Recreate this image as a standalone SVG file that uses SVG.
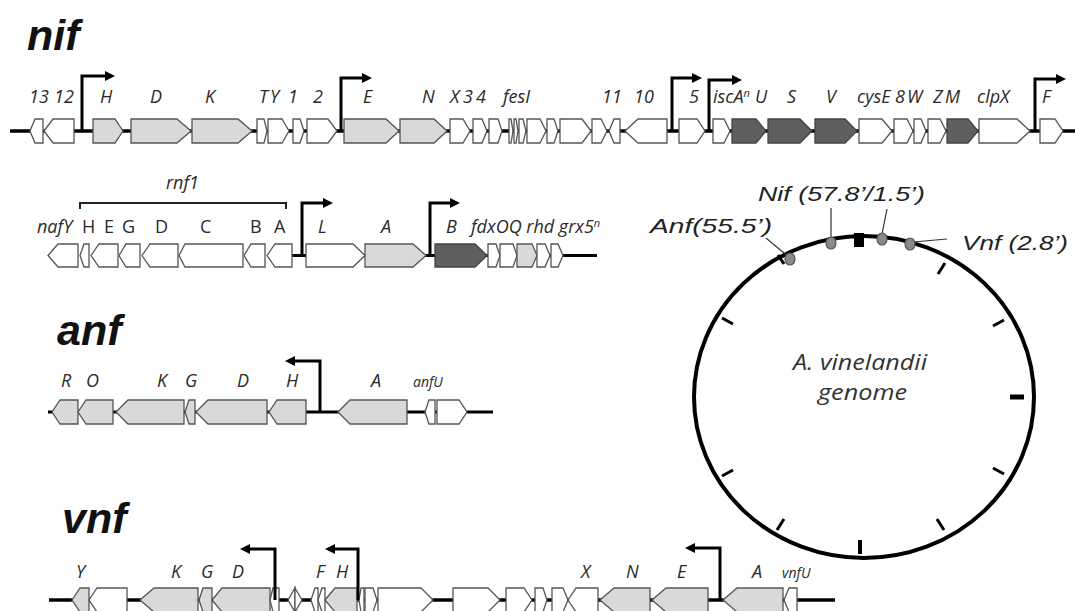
<svg xmlns="http://www.w3.org/2000/svg" width="1075" height="611" viewBox="0 0 1075 611">
<defs>
<marker id="pa" viewBox="0 0 10 10" markerWidth="11" markerHeight="10" refX="3" refY="5" markerUnits="userSpaceOnUse" orient="auto"><path d="M0,0 L10,5 L0,10 z" fill="#000"/></marker>
</defs>
<style>
.w{fill:#fff;stroke:#555;stroke-width:1.3}
.g{fill:#d9d9d9;stroke:#555;stroke-width:1.3}
.d{fill:#5f5f5f;stroke:#444;stroke-width:1.3}
.bb{stroke:#000;stroke-width:3.5;fill:none}
.pr{stroke:#000;stroke-width:3;fill:none;marker-end:url(#pa)}
.gl{font-family:"Open Sans",Lato,sans-serif;font-style:italic;font-size:18px;fill:#2a2a2a}
.gu{font-family:"Open Sans",Lato,sans-serif;font-size:18px;fill:#2a2a2a}
.gs{font-family:"Open Sans",Lato,sans-serif;font-style:italic;font-size:14px;fill:#2a2a2a}
.tt{font-family:"Liberation Sans",Arial,sans-serif;font-weight:bold;font-style:italic;font-size:43px;fill:#111}
.cl{font-family:"Liberation Sans",Arial,sans-serif;font-style:italic;font-size:21px;fill:#222}
.gn{font-family:"Open Sans",Lato,sans-serif;font-style:italic;font-size:21px;fill:#333}
.tk{stroke:#000;stroke-width:3}
.mk{fill:#8a8a8a;stroke:#555;stroke-width:1.2}
.ld{stroke:#333;stroke-width:1.2;fill:none}
</style>

<g id="connectors">
<line class="bb" x1="10" y1="131" x2="1075" y2="131"/>
<line class="bb" x1="292" y1="255.5" x2="597" y2="255.5" style="stroke-width:3"/>
<line class="bb" x1="48" y1="412" x2="493" y2="412" style="stroke-width:3"/>
<line class="bb" x1="49" y1="600" x2="835" y2="600"/>
</g>

<g id="titles">
<text class="tt" x="27" y="50">nif</text>
<text class="tt" x="57" y="345">anf</text>
<text class="tt" x="62" y="533">vnf</text>
</g>

<g id="nif-row1">
<polygon class="w" points="30,131 35,119 43,119 43,143 35,143"/>
<polygon class="w" points="44,131 53,119 74,119 74,143 53,143"/>
<polygon class="g" points="93,119 115,119 123,131 115,143 93,143"/>
<polygon class="g" points="131,119 177,119 191,131 177,143 131,143"/>
<polygon class="g" points="192,119 238,119 252,131 238,143 192,143"/>
<polygon class="w" points="257,119 264,119 267,131 264,143 257,143"/>
<polygon class="w" points="268,119 282,119 289,131 282,143 268,143"/>
<polygon class="w" points="293,119 300,119 304,131 300,143 293,143"/>
<polygon class="w" points="307,119 328,119 337,131 328,143 307,143"/>
<polygon class="g" points="344,119 386,119 399,131 386,143 344,143"/>
<polygon class="g" points="400,119 434,119 447,131 434,143 400,143"/>
<polygon class="w" points="450,119 463,119 470,131 463,143 450,143"/>
<polygon class="w" points="473,119 482,119 487,131 482,143 473,143"/>
<polygon class="w" points="489,119 498,119 502,131 498,143 489,143"/>
<polygon class="w" points="509,119 511,119 513,131 511,143 509,143"/>
<polygon class="w" points="514,119 516,119 518,131 516,143 514,143"/>
<polygon class="w" points="519,119 523,119 526,131 523,143 519,143"/>
<polygon class="w" points="527,119 540,119 546,131 540,143 527,143"/>
<polygon class="w" points="547,119 554,119 558,131 554,143 547,143"/>
<polygon class="w" points="560,119 582,119 591,131 582,143 560,143"/>
<polygon class="w" points="592,119 601,119 607,131 601,143 592,143"/>
<polygon class="w" points="609,131 614,119 620,119 620,143 614,143"/>
<polygon class="w" points="625,131 638,119 667,119 667,143 638,143"/>
<polygon class="w" points="679,119 697,119 705,131 697,143 679,143"/>
<polygon class="w" points="713,119 724,119 730,131 724,143 713,143"/>
<polygon class="d" points="732,119 756,119 766,131 756,143 732,143"/>
<polygon class="d" points="768,119 800,119 812,131 800,143 768,143"/>
<polygon class="d" points="815,119 845,119 857,131 845,143 815,143"/>
<polygon class="w" points="859,119 882,119 892,131 882,143 859,143"/>
<polygon class="w" points="894,119 907,119 913,131 907,143 894,143"/>
<polygon class="w" points="914,119 921,119 926,131 921,143 914,143"/>
<polygon class="w" points="928,119 940,119 946,131 940,143 928,143"/>
<polygon class="d" points="947,119 968,119 978,131 968,143 947,143"/>
<polygon class="w" points="979,119 1017,119 1030,131 1017,143 979,143"/>
<polygon class="w" points="1040,119 1055,119 1063,131 1055,143 1040,143"/>
<path class="pr" d="M82,131 V76 H108"/>
<path class="pr" d="M341,131 V78 H365"/>
<path class="pr" d="M672,131 V78 H695"/>
<path class="pr" d="M709,131 V80 H735"/>
<path class="pr" d="M1035,131 V79 H1059"/>
<text class="gl" x="29" y="103">13</text>
<text class="gl" x="54" y="103">12</text>
<text class="gl" x="100" y="103">H</text>
<text class="gl" x="150" y="103">D</text>
<text class="gl" x="205" y="103">K</text>
<text class="gl" x="259" y="103">T</text>
<text class="gl" x="270" y="103">Y</text>
<text class="gl" x="288" y="103">1</text>
<text class="gl" x="313" y="103">2</text>
<text class="gl" x="363" y="103">E</text>
<text class="gl" x="422" y="103">N</text>
<text class="gl" x="450" y="103">X</text>
<text class="gl" x="463" y="103">3</text>
<text class="gl" x="476" y="103">4</text>
<text class="gl" x="503" y="103">fesI</text>
<text class="gl" x="602" y="103">11</text>
<text class="gl" x="634" y="103">10</text>
<text class="gl" x="689" y="103">5</text>
<text class="gl" x="713" y="103">iscA<tspan font-size="11" dy="-6">n</tspan></text>
<text class="gl" x="755" y="103">U</text>
<text class="gl" x="787" y="103">S</text>
<text class="gl" x="826" y="103">V</text>
<text class="gl" x="857" y="103">cysE</text>
<text class="gl" x="895" y="103">8</text>
<text class="gl" x="907" y="103">W</text>
<text class="gl" x="933" y="103">Z</text>
<text class="gl" x="945" y="103">M</text>
<text class="gl" x="977" y="103">clpX</text>
<text class="gl" x="1042" y="103">F</text>
</g>

<g id="nif-row2">
<path d="M80,209 V203 H286 V209" fill="none" stroke="#222" stroke-width="2"/>
<text class="gl" x="166" y="189" font-size="15">rnf1</text>
<polygon class="w" points="48,255.5 58,244 78,244 78,267 58,267"/>
<polygon class="w" points="80,255.5 84,244 89,244 89,267 84,267"/>
<polygon class="w" points="91,255.5 99,244 118,244 118,267 99,267"/>
<polygon class="w" points="119,255.5 126,244 140,244 140,267 126,267"/>
<polygon class="w" points="142,255.5 150,244 178,244 178,267 150,267"/>
<polygon class="w" points="179,255.5 185,244 243,244 243,267 185,267"/>
<polygon class="w" points="244,255.5 251,244 265,244 265,267 251,267"/>
<polygon class="w" points="267,255.5 275,244 292,244 292,267 275,267"/>
<polygon class="w" points="306,244 353,244 365,255.5 353,267 306,267"/>
<polygon class="g" points="365,244 413,244 426,255.5 413,267 365,267"/>
<polygon class="d" points="435,244 475,244 487,255.5 475,267 435,267"/>
<polygon class="w" points="488,244 496,244 500,255.5 496,267 488,267"/>
<polygon class="w" points="500,244 513,244 517,255.5 513,267 500,267"/>
<polygon class="g" points="517,244 532,244 537,255.5 532,267 517,267"/>
<polygon class="w" points="537,244 545,244 550,255.5 545,267 537,267"/>
<polygon class="w" points="551,244 558,244 563,255.5 558,267 551,267"/>
<path class="pr" d="M302,255.5 V203 H326"/>
<path class="pr" d="M430,255.5 V203 H453"/>
<text class="gl" x="37" y="233">nafY</text>
<text class="gu" x="82" y="233">H</text>
<text class="gu" x="104" y="233">E</text>
<text class="gu" x="122" y="233">G</text>
<text class="gu" x="155" y="233">D</text>
<text class="gu" x="200" y="233">C</text>
<text class="gu" x="250" y="233">B</text>
<text class="gu" x="274" y="233">A</text>
<text class="gl" x="318" y="233">L</text>
<text class="gl" x="381" y="233">A</text>
<text class="gl" x="446" y="233">B</text>
<text class="gl" x="471" y="233">fdxOQ rhd grx5<tspan font-size="11" dy="-6">n</tspan></text>
</g>

<g id="anf-row">
<polygon class="g" points="52,412 60,400 78,400 78,424 60,424"/>
<polygon class="g" points="78,412 86,400 113,400 113,424 86,424"/>
<polygon class="g" points="116,412 128,400 184,400 184,424 128,424"/>
<polygon class="g" points="185,412 189,400 195,400 195,424 189,424"/>
<polygon class="g" points="196,412 208,400 267,400 267,424 208,424"/>
<polygon class="g" points="269,412 277,400 306,400 306,424 277,424"/>
<polygon class="g" points="338,412 350,400 407,400 407,424 350,424"/>
<polygon class="w" points="425,412 429,400 435,400 435,424 429,424"/>
<polygon class="w" points="437,400 459,400 467,412 459,424 437,424"/>
<path class="pr" d="M320,412 V361 H292"/>
<text class="gl" x="61" y="387">R</text>
<text class="gl" x="86" y="387">O</text>
<text class="gl" x="157" y="387">K</text>
<text class="gl" x="185" y="387">G</text>
<text class="gl" x="237" y="387">D</text>
<text class="gl" x="286" y="387">H</text>
<text class="gl" x="371" y="387">A</text>
<text class="gs" x="413" y="387">anfU</text>
</g>

<g id="vnf-row">
<polygon class="g" points="72,600 80,588 89,588 89,612 80,612"/>
<polygon class="w" points="89,600 97,588 127,588 127,612 97,612"/>
<polygon class="g" points="140,600 154,588 198,588 198,612 154,612"/>
<polygon class="g" points="199,600 203,588 212,588 212,612 203,612"/>
<polygon class="g" points="212,600 222,588 270,588 270,612 222,612"/>
<polygon class="w" points="270,600 273,588 279,588 279,612 273,612"/>
<polygon class="w" points="288,600 295,588 295,612"/>
<polygon class="w" points="295,588 302,600 295,612"/>
<polygon class="w" points="311,600 315,588 318,588 318,612 315,612"/>
<polygon class="w" points="318,600 322,588 325,588 325,612 322,612"/>
<polygon class="g" points="325,600 335,588 357,588 357,612 335,612"/>
<polygon class="w" points="359,600 361,588 364,588 364,612 361,612"/>
<polygon class="w" points="365,588 373,588 377,600 373,612 365,612"/>
<polygon class="w" points="378,588 421,588 433,600 421,612 378,612"/>
<polygon class="w" points="453,588 488,588 500,600 488,612 453,612"/>
<polygon class="w" points="506,588 524,588 532,600 524,612 506,612"/>
<polygon class="w" points="535,588 543,588 547,600 543,612 535,612"/>
<polygon class="w" points="552,588 563,588 568,600 563,612 552,612"/>
<polygon class="w" points="568,600 576,588 598,588 598,612 576,612"/>
<polygon class="g" points="600,600 614,588 650,588 650,612 614,612"/>
<polygon class="g" points="652,600 666,588 708,588 708,612 666,612"/>
<polygon class="g" points="723,600 737,588 783,588 783,612 737,612"/>
<polygon class="w" points="784,600 789,588 797,588 797,612 789,612"/>
<path class="pr" d="M275,600 V549 H247"/>
<path class="pr" d="M358,600 V549 H332"/>
<path class="pr" d="M720,600 V548 H692"/>
<text class="gl" x="76" y="578">Y</text>
<text class="gl" x="171" y="578">K</text>
<text class="gl" x="201" y="578">G</text>
<text class="gl" x="232" y="578">D</text>
<text class="gl" x="316" y="578">F</text>
<text class="gl" x="336" y="578">H</text>
<text class="gl" x="581" y="578">X</text>
<text class="gl" x="626" y="578">N</text>
<text class="gl" x="677" y="578">E</text>
<text class="gl" x="752" y="578">A</text>
<text class="gs" x="782" y="578">vnfU</text>
</g>

<g id="genome">
<ellipse cx="864" cy="397" rx="170" ry="161" fill="none" stroke="#000" stroke-width="4"/>
<line class="tk" x1="938" y1="274" x2="945" y2="263"/>
<line class="tk" x1="993" y1="326" x2="1004" y2="320"/>
<line class="tk" x1="1010" y1="397" x2="1024" y2="397" style="stroke-width:5"/>
<line class="tk" x1="993" y1="468" x2="1004" y2="474"/>
<line class="tk" x1="937" y1="519" x2="944" y2="530"/>
<line class="tk" x1="860" y1="540" x2="860" y2="554" style="stroke-width:4"/>
<line class="tk" x1="784" y1="519" x2="777" y2="530"/>
<line class="tk" x1="733" y1="470" x2="722" y2="476"/>
<line class="tk" x1="733" y1="324" x2="722" y2="318"/>
<line class="tk" x1="784" y1="264" x2="778" y2="255"/>
<rect x="854" y="233" width="10" height="14" fill="#000"/>
<line class="ld" x1="766" y1="238" x2="790" y2="258"/>
<line class="ld" x1="831" y1="208" x2="831" y2="238"/>
<line class="ld" x1="887" y1="209" x2="882" y2="234"/>
<line class="ld" x1="913" y1="242" x2="947" y2="239"/>
<ellipse class="mk" cx="790" cy="259" rx="5" ry="6"/>
<ellipse class="mk" cx="831" cy="243" rx="5" ry="6"/>
<ellipse class="mk" cx="882" cy="239" rx="5" ry="6"/>
<ellipse class="mk" cx="910" cy="244" rx="5" ry="6"/>
<text class="cl" x="758" y="201" textLength="167" lengthAdjust="spacingAndGlyphs">Nif (57.8’/1.5’)</text>
<text class="cl" x="650" y="233" textLength="122" lengthAdjust="spacingAndGlyphs">Anf(55.5’)</text>
<text class="cl" x="962" y="250" textLength="106" lengthAdjust="spacingAndGlyphs">Vnf (2.8’)</text>
<text class="gn" x="793" y="370" textLength="134" lengthAdjust="spacingAndGlyphs">A. vinelandii</text>
<text class="gn" x="818" y="400" textLength="89" lengthAdjust="spacingAndGlyphs">genome</text>
</g>
</svg>
